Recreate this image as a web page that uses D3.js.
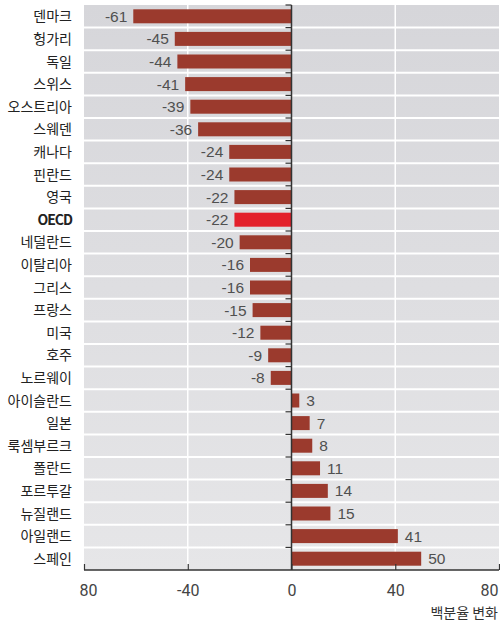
<!DOCTYPE html>
<html>
<head>
<meta charset="utf-8">
<script src="https://cdn.jsdelivr.net/npm/d3@7"></script>
<style>
  html, body { margin: 0; padding: 0; background: #fff; }
  svg { display: block; }
</style>
</head>
<body>
<svg id="chart" width="500" height="627"></svg>
<script>
// Countries, top to bottom
const countries = ["덴마크","헝가리","독일","스위스","오스트리아","스웨덴","캐나다","핀란드","영국","OECD","네덜란드","이탈리아","그리스","프랑스","미국","호주","노르웨이","아이슬란드","일본","룩셈부르크","폴란드","포르투갈","뉴질랜드","아일랜드","스페인"];
// Percentage change
const changes = [-61,-45,-44,-41,-39,-36,-24,-24,-22,-22,-20,-16,-16,-15,-12,-9,-8,3,7,8,11,14,15,41,50];
// Axis
const tickValues = [-80,-40,0,40,80];
const tickLabels = ["80","-40","0","40","80"];
const axisTitle = "백분율 변화";

const svg = d3.select("#chart");
const plotLeft = 84, plotRight = 499, plotTop = 5, plotBottom = 570;

const x = d3.scaleLinear().domain([-80, 80]).range([plotLeft, plotRight]);
const y = d3.scaleBand().domain(countries).range([plotTop, plotBottom]).paddingInner(0).paddingOuter(0);

// Background gradient
const defs = svg.append("defs");
const grad = defs.append("linearGradient").attr("id", "bg").attr("x1", 0).attr("y1", 0).attr("x2", 0).attr("y2", 1);
grad.append("stop").attr("offset", "0%").attr("stop-color", "#d6d6da");
grad.append("stop").attr("offset", "100%").attr("stop-color", "#e6e6e8");

svg.append("rect").attr("x", plotLeft).attr("y", plotTop).attr("width", plotRight - plotLeft).attr("height", plotBottom - plotTop).attr("fill", "url(#bg)");

// Horizontal white separators between rows
svg.append("g").selectAll("line").data(countries.slice(1)).join("line")
  .attr("x1", plotLeft).attr("x2", plotRight)
  .attr("y1", d => y(d)).attr("y2", d => y(d))
  .attr("stroke", "#fff").attr("stroke-width", 2);

// Vertical gridlines
svg.append("g").selectAll("line").data([-40, 40]).join("line")
  .attr("x1", d => x(d)).attr("x2", d => x(d))
  .attr("y1", plotTop).attr("y2", plotBottom)
  .attr("stroke", "#fff").attr("stroke-width", 1.5);

// Bars
const barH = 14;
svg.append("g").selectAll("rect").data(countries).join("rect")
  .attr("x", (d, i) => x(Math.min(0, changes[i])))
  .attr("width", (d, i) => Math.abs(x(changes[i]) - x(0)))
  .attr("y", d => y(d) + (y.bandwidth() - barH) / 2)
  .attr("height", barH)
  .attr("fill", d => d === "OECD" ? "#e3202b" : "#9b3a2d");

// Value labels
svg.append("g").selectAll("text").data(countries).join("text")
  .attr("x", (d, i) => changes[i] < 0 ? x(changes[i]) - 6 : x(changes[i]) + 7)
  .attr("y", d => y(d) + y.bandwidth() / 2)
  .attr("dy", "0.36em")
  .attr("text-anchor", (d, i) => changes[i] < 0 ? "end" : "start")
  .attr("font-family", "'Liberation Sans Narrow', 'Liberation Sans', Arial, sans-serif")
  .attr("font-size", 15.5)
  .attr("fill", "#505050")
  .text((d, i) => changes[i]);

// Zero axis with row ticks
svg.append("line").attr("x1", x(0)).attr("x2", x(0)).attr("y1", plotTop).attr("y2", plotBottom)
  .attr("stroke", "#333").attr("stroke-width", 1.5);
svg.append("g").selectAll("line").data(countries).join("line")
  .attr("x1", x(0) - 6).attr("x2", x(0))
  .attr("y1", d => y(d)).attr("y2", d => y(d))
  .attr("stroke", "#333").attr("stroke-width", 1.2);

// Category labels
svg.append("g").selectAll("text").data(countries).join("text")
  .attr("x", 72)
  .attr("y", d => y(d) + y.bandwidth() / 2)
  .attr("dy", "0.36em")
  .attr("text-anchor", "end")
  .attr("font-family", "'Noto Sans CJK KR', sans-serif")
  .attr("font-size", 14)
  .attr("font-weight", d => d === "OECD" ? 700 : 400)
  .attr("letter-spacing", d => d === "OECD" ? "-1px" : "0")
  .attr("fill", "#222")
  .text(d => d);

// Bottom axis
const xAxis = d3.axisBottom(x).tickValues(tickValues).tickSize(-6).tickPadding(15)
  .tickFormat((d, i) => tickLabels[i]);
const ax = svg.append("g").attr("transform", `translate(0,${plotBottom})`).call(xAxis);
ax.select(".domain").attr("stroke", "#333").attr("stroke-width", 1.5).attr("d", `M${plotLeft},0H${plotRight}`);
ax.selectAll(".tick line").attr("stroke", "#333").attr("stroke-width", 1.2);
ax.selectAll(".tick text")
  .attr("font-family", "Roboto, 'Liberation Sans', sans-serif")
  .attr("font-size", 16).attr("fill", "#444");
// keep the end labels inside the frame
ax.selectAll(".tick text").filter((d, i) => i === 0).attr("text-anchor", "start").attr("dx", -5);
ax.selectAll(".tick text").filter((d, i) => i === tickValues.length - 1).attr("text-anchor", "end").attr("dx", -1);

svg.append("text").attr("x", 498).attr("y", 618)
  .attr("text-anchor", "end")
  .attr("font-family", "'Noto Sans CJK KR', sans-serif")
  .attr("font-size", 14).attr("fill", "#333")
  .text(axisTitle);
</script>
</body>
</html>
